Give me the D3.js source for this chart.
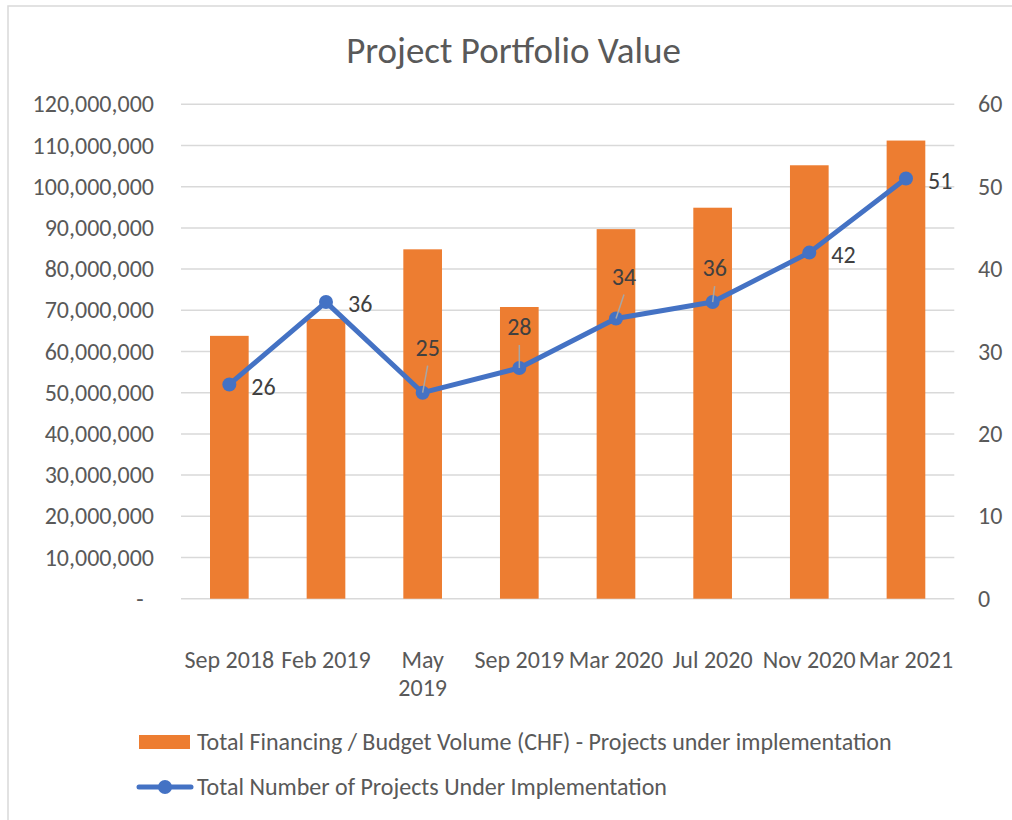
<!DOCTYPE html>
<html>
<head>
<meta charset="utf-8">
<script src="https://cdn.jsdelivr.net/npm/d3@7"></script>
<style>
  html, body { margin: 0; padding: 0; background: #ffffff; }
  svg { display: block; }
  text { font-family: Carlito, "Liberation Sans", Arial, sans-serif; }
</style>
</head>
<body>
<svg id="chart" width="1012" height="820"></svg>
<script>
// ---- data ----
const categories = ["Sep 2018", "Feb 2019", "May 2019", "Sep 2019", "Mar 2020", "Jul 2020", "Nov 2020", "Mar 2021"];
const tickLabelLines = [["Sep 2018"], ["Feb 2019"], ["May", "2019"], ["Sep 2019"], ["Mar 2020"], ["Jul 2020"], ["Nov 2020"], ["Mar 2021"]];
const budgetValues = [63800000, 67900000, 84800000, 70800000, 89700000, 94900000, 105200000, 111200000];
const projectCounts = [26, 36, 25, 28, 34, 36, 42, 51];
const leftTicks = [0, 10000000, 20000000, 30000000, 40000000, 50000000, 60000000, 70000000, 80000000, 90000000, 100000000, 110000000, 120000000];
const rightTicks = [0, 10, 20, 30, 40, 50, 60];
const title = "Project Portfolio Value";
const seriesNames = ["Total Financing / Budget Volume (CHF) - Projects under implementation", "Total Number of Projects Under Implementation"];

// label placement (style): offset from point, and whether a leader line is drawn
const labelPlacement = [
  {dx: 22, dy: 2, anchor: "start", leader: false},
  {dx: 22, dy: 2, anchor: "start", leader: false},
  {dx: 5, dy: -45, anchor: "middle", leader: true},
  {dx: 0, dy: -41, anchor: "middle", leader: true},
  {dx: 8, dy: -42, anchor: "middle", leader: true},
  {dx: 2, dy: -34, anchor: "middle", leader: true},
  {dx: 22, dy: 2, anchor: "start", leader: false},
  {dx: 22, dy: 2, anchor: "start", leader: false}
];

// ---- colors / sizes ----
const orange = "#ED7D31", blue = "#4472C4", grid = "#D9D9D9", axisText = "#595959", labelText = "#404040";
const fs = 24;

const svg = d3.select("#chart");

// outer border (only top and left visible in frame)
svg.append("rect").attr("x", 8).attr("y", 6).attr("width", 1100).attr("height", 900)
  .attr("fill", "none").attr("stroke", "#D9D9D9").attr("stroke-width", 1.5);

const plotLeft = 181, plotRight = 954.3, plotTop = 104.3, plotBottom = 598.7;

const x = d3.scaleBand().domain(categories).range([plotLeft, plotRight]).paddingInner(0.6).paddingOuter(0.3);
const yL = d3.scaleLinear().domain([0, 120000000]).range([plotBottom, plotTop]);
const yR = d3.scaleLinear().domain([0, 60]).range([plotBottom, plotTop]);

// title
svg.append("text").attr("x", 513.5).attr("y", 62.5).attr("text-anchor", "middle")
  .attr("font-size", 37).attr("fill", axisText).text(title);

// gridlines
svg.append("g").selectAll("line").data(leftTicks).join("line")
  .attr("x1", plotLeft).attr("x2", plotRight)
  .attr("y1", d => yL(d)).attr("y2", d => yL(d))
  .attr("stroke", grid).attr("stroke-width", 1.5);

// left axis
const fmt = d3.format(",");
const leftAxis = d3.axisLeft(yL).tickValues(leftTicks).tickSize(0).tickPadding(27)
  .tickFormat(d => d === 0 ? "" : fmt(d));
const gL = svg.append("g").attr("transform", `translate(${plotLeft},0)`).call(leftAxis);
gL.select(".domain").remove();
gL.selectAll("text").attr("font-size", fs).attr("fill", axisText).attr("font-family", null);
// zero shown as dash
svg.append("text").attr("x", 140).attr("y", yL(0)).attr("dy", "0.35em").attr("text-anchor", "middle")
  .attr("font-size", fs).attr("fill", axisText).text("-");

// right axis
const rightAxis = d3.axisRight(yR).tickValues(rightTicks).tickSize(0).tickPadding(23.7);
const gR = svg.append("g").attr("transform", `translate(${plotRight},0)`).call(rightAxis);
gR.select(".domain").remove();
gR.selectAll("text").attr("font-size", fs).attr("fill", axisText).attr("font-family", null);

// x axis labels
const gx = svg.append("g");
categories.forEach((c, i) => {
  const t = gx.append("text").attr("x", x(c) + x.bandwidth() / 2).attr("y", plotBottom + 61)
    .attr("text-anchor", "middle").attr("font-size", fs).attr("fill", axisText);
  tickLabelLines[i].forEach((ln, j) => {
    t.append("tspan").attr("x", x(c) + x.bandwidth() / 2).attr("dy", j === 0 ? "0.35em" : 28).text(ln);
  });
});

// bars
svg.append("g").selectAll("rect").data(budgetValues).join("rect")
  .attr("x", (d, i) => x(categories[i]))
  .attr("width", x.bandwidth())
  .attr("y", d => yL(d))
  .attr("height", d => plotBottom - yL(d))
  .attr("fill", orange);

// line
const cx = i => x(categories[i]) + x.bandwidth() / 2;
const line = d3.line().x((d, i) => cx(i)).y(d => yR(d));
svg.append("path").datum(projectCounts).attr("d", line)
  .attr("fill", "none").attr("stroke", blue).attr("stroke-width", 5).attr("stroke-linejoin", "round");
svg.append("g").selectAll("circle").data(projectCounts).join("circle")
  .attr("cx", (d, i) => cx(i)).attr("cy", d => yR(d)).attr("r", 7).attr("fill", blue);

// leader lines
svg.append("g").selectAll("line").data(projectCounts.map((d, i) => ({d, i})).filter(o => labelPlacement[o.i].leader)).join("line")
  .attr("x1", o => cx(o.i) + labelPlacement[o.i].dx).attr("y1", o => yR(o.d) + labelPlacement[o.i].dy + 18)
  .attr("x2", o => cx(o.i)).attr("y2", o => yR(o.d))
  .attr("stroke", "#A6A6A6").attr("stroke-width", 1.5);

// data labels
svg.append("g").selectAll("text").data(projectCounts).join("text")
  .attr("x", (d, i) => cx(i) + labelPlacement[i].dx)
  .attr("y", (d, i) => yR(d) + labelPlacement[i].dy)
  .attr("dy", "0.35em")
  .attr("text-anchor", (d, i) => labelPlacement[i].anchor)
  .attr("font-size", fs).attr("fill", labelText)
  .text(d => d);

// legend
const lg = svg.append("g");
lg.append("rect").attr("x", 139).attr("y", 735).attr("width", 51).attr("height", 14).attr("fill", orange);
lg.append("text").attr("x", 197).attr("y", 742).attr("dy", "0.35em").attr("font-size", fs).attr("fill", axisText).text(seriesNames[0]);
lg.append("line").attr("x1", 139).attr("x2", 191).attr("y1", 787).attr("y2", 787).attr("stroke", blue).attr("stroke-width", 5).attr("stroke-linecap", "round");
lg.append("circle").attr("cx", 165).attr("cy", 787).attr("r", 7).attr("fill", blue);
lg.append("text").attr("x", 197).attr("y", 787).attr("dy", "0.35em").attr("font-size", fs).attr("fill", axisText).text(seriesNames[1]);
</script>
</body>
</html>
